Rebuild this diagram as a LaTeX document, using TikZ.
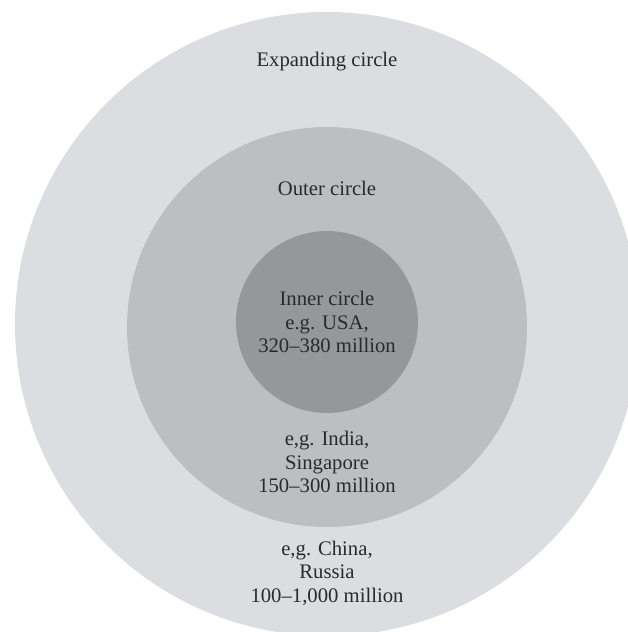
\documentclass[tikz,border=0pt]{standalone}
\usepackage{fontspec}
\setmainfont{Liberation Serif}
\definecolor{ringA}{HTML}{DCDDE0}
\definecolor{ringB}{HTML}{BDBEC2}
\definecolor{ringC}{HTML}{96979A}
\definecolor{inkgray}{HTML}{2A2A2A}
\begin{document}
\begin{tikzpicture}[x=1pt,y=-1pt,
  ring/.style={circle, draw=none, inner sep=0pt},
  lbl/.style={align=center, text=inkgray, inner sep=0pt,
    font=\fontsize{20.7pt}{23.5pt}\selectfont}]
\useasboundingbox (0,0) rectangle (628,632);
\fill[white] (0,0) rectangle (628,632);
\clip (0,0) rectangle (628,632);
\node[ring, fill=ringA, minimum size=624pt] (expanding) at (327,324) {};
\node[ring, fill=ringB, minimum size=400pt] (outer) at (327,327) {};
\node[ring, fill=ringC, minimum size=182pt] (inner) at (327,322) {};
\node[lbl] (t1) at (327,62) {Expanding circle};
\node[lbl] (t2) at (327,188) {Outer circle};
\node[lbl] (t3) at (327,322) {Inner circle\\e.g. USA,\\320–380 million};
\node[lbl] (t4) at (327,462) {e,g. India,\\Singapore\\150–300 million};
\node[lbl] (t5) at (327,573) {e,g. China,\\Russia\\100–1,000 million};
\end{tikzpicture}
\end{document}
